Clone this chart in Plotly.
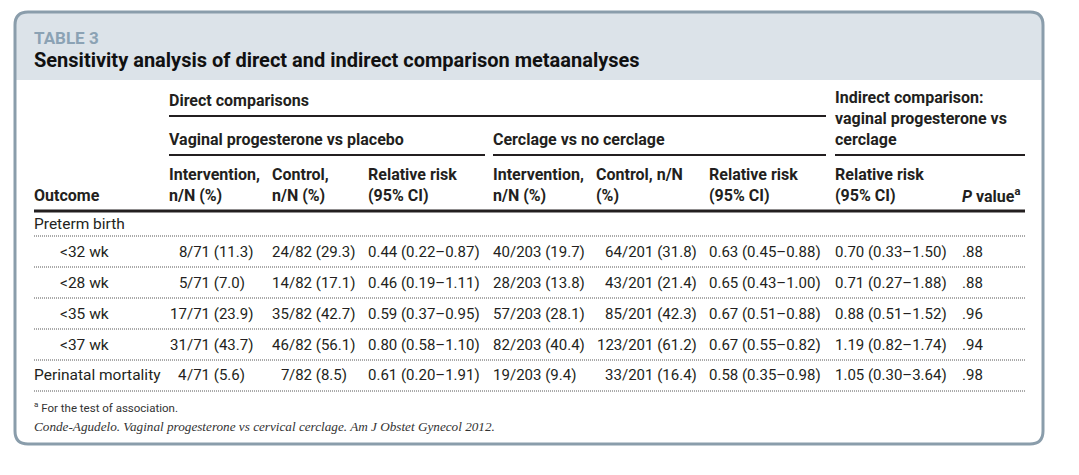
import plotly.graph_objects as go

# ---------------- data ----------------
table_label = "TABLE 3"
table_title = "Sensitivity analysis of direct and indirect comparison metaanalyses"
group_label = "Preterm birth"
outcomes = ["&lt;32 wk", "&lt;28 wk", "&lt;35 wk", "&lt;37 wk", "Perinatal mortality"]
outcome_indent = [True, True, True, True, False]

vp_int_n = [8, 5, 17, 31, 4]
vp_int_N = 71
vp_int_pct = [11.3, 7.0, 23.9, 43.7, 5.6]
vp_ctl_n = [24, 14, 35, 46, 7]
vp_ctl_N = 82
vp_ctl_pct = [29.3, 17.1, 42.7, 56.1, 8.5]
vp_rr = [0.44, 0.46, 0.59, 0.80, 0.61]
vp_lo = [0.22, 0.19, 0.37, 0.58, 0.20]
vp_hi = [0.87, 1.11, 0.95, 1.10, 1.91]

cc_int_n = [40, 28, 57, 82, 19]
cc_int_N = 203
cc_int_pct = [19.7, 13.8, 28.1, 40.4, 9.4]
cc_ctl_n = [64, 43, 85, 123, 33]
cc_ctl_N = 201
cc_ctl_pct = [31.8, 21.4, 42.3, 61.2, 16.4]
cc_rr = [0.63, 0.65, 0.67, 0.67, 0.58]
cc_lo = [0.45, 0.43, 0.51, 0.55, 0.35]
cc_hi = [0.88, 1.00, 0.88, 0.82, 0.98]

ind_rr = [0.70, 0.71, 0.88, 1.19, 1.05]
ind_lo = [0.33, 0.27, 0.51, 0.82, 0.30]
ind_hi = [1.50, 1.88, 1.52, 1.74, 3.64]
p_values = [0.88, 0.88, 0.96, 0.94, 0.98]

footnote = "<sup>a</sup> For the test of association."
citation = "Conde-Agudelo. Vaginal progesterone vs cervical cerclage. Am J Obstet Gynecol 2012."

# ---------------- style ----------------
W, H = 1079, 475
OFF = 8  # page body margin compensation
SANS = "Roboto, Liberation Sans, Arial, sans-serif"
SERIF = "Liberation Serif, DejaVu Serif, serif"
BODY = "#231f20"
BAND = "#dce3e9"
FRAME = "#8a9dab"
LABEL = "#8ba2b4"
FS_TXT = 15.5
FS_NUM = 15
FS_HDR = 16

fig = go.Figure()
fig.update_layout(
    width=W, height=H, margin=dict(l=0, r=0, t=0, b=0),
    paper_bgcolor="white", plot_bgcolor="white", showlegend=False,
    xaxis=dict(range=[OFF, W + OFF], visible=False, fixedrange=True),
    yaxis=dict(range=[H + OFF, OFF], visible=False, fixedrange=True),
)

ann = []


def txt(x, y, s, size=FS_NUM, bold=False, color=BODY, anchor="left", family=SANS, italic=False):
    if bold:
        s = "<b>" + s + "</b>"
    if italic:
        s = "<i>" + s + "</i>"
    ann.append(dict(x=x, y=y, xref="x", yref="y", text=s, showarrow=False,
                    xanchor=anchor, yanchor="middle", align=anchor,
                    borderpad=0, borderwidth=0,
                    font=dict(family=family, size=size, color=color)))


shapes = []


def hline(x0, x1, y, w=1, dash="solid", color=BODY):
    shapes.append(dict(type="line", xref="x", yref="y", x0=x0, x1=x1, y0=y, y1=y,
                       line=dict(color=color, width=w, dash=dash), layer="above"))


# frame
fx0, fy0, fx1, fy1, r = 15, 12, 1043, 444, 13
band_bottom = 80
band = (f"M {fx0},{band_bottom} L {fx0},{fy0 + r} Q {fx0},{fy0} {fx0 + r},{fy0} "
        f"L {fx1 - r},{fy0} Q {fx1},{fy0} {fx1},{fy0 + r} L {fx1},{band_bottom} Z")
shapes.append(dict(type="path", xref="x", yref="y", path=band, fillcolor=BAND,
                   line=dict(width=0), layer="below"))
outline = (f"M {fx0},{fy0 + r} Q {fx0},{fy0} {fx0 + r},{fy0} L {fx1 - r},{fy0} "
           f"Q {fx1},{fy0} {fx1},{fy0 + r} L {fx1},{fy1 - r} Q {fx1},{fy1} {fx1 - r},{fy1} "
           f"L {fx0 + r},{fy1} Q {fx0},{fy1} {fx0},{fy1 - r} Z")
shapes.append(dict(type="path", xref="x", yref="y", path=outline,
                   line=dict(color=FRAME, width=3), layer="above"))

# title
txt(34, 38, table_label, size=17, bold=True, color=LABEL)
txt(34, 60, table_title, size=20, bold=True, color="#111111")

# header text
L, R = 34, 1025
txt(169, 100, "Direct comparisons", size=FS_HDR, bold=True)
hline(169, 826, 116, w=2)
txt(169, 139, "Vaginal progesterone vs placebo", size=FS_HDR, bold=True)
hline(169, 485, 155, w=2)
txt(493, 139, "Cerclage vs no cerclage", size=FS_HDR, bold=True)
hline(493, 826, 155, w=2)
txt(835, 97, "Indirect comparison:", size=FS_HDR, bold=True)
txt(835, 118, "vaginal progesterone vs", size=FS_HDR, bold=True)
txt(835, 139, "cerclage", size=FS_HDR, bold=True)
hline(835, R, 155, w=2)

h1, h2 = 174, 195
txt(L, h2, "Outcome", size=FS_HDR, bold=True)
for x, a, b in [(169, "Intervention,", "n/N (%)"), (272, "Control,", "n/N (%)"),
                (368, "Relative risk", "(95% CI)"), (493, "Intervention,", "n/N (%)"),
                (596, "Control, n/N", "(%)"), (709, "Relative risk", "(95% CI)"),
                (835, "Relative risk", "(95% CI)")]:
    txt(x, h1, a, size=FS_HDR, bold=True)
    txt(x, h2, b, size=FS_HDR, bold=True)
txt(1020, h2, "<i>P</i> value<sup>a</sup>", size=FS_HDR, bold=True, anchor="right")
hline(L, R, 211, w=3)

# body
txt(L, 224, group_label, size=FS_TXT)
row_y = [252, 283, 314, 345, 375]
dot_y = [236, 267, 298, 329, 360, 391]
for y in dot_y:
    hline(L, R, y, w=1, dash="1px,1px", color="#555555")

slash_x = {"vp_int": 187, "vp_ctl": 289, "cc_int": 510, "cc_ctl": 622}


def frac(key, n, N, pct, y):
    xs = slash_x[key]
    txt(xs, y, f"{n}", anchor="right")
    txt(xs, y, f"/{N} ({pct:.1f})", anchor="left")


def ci(v, lo, hi):
    return f"{v:.2f} ({lo:.2f}\u2013{hi:.2f})"


for i, y in enumerate(row_y):
    txt(60 if outcome_indent[i] else L, y, outcomes[i], size=FS_TXT)
    frac("vp_int", vp_int_n[i], vp_int_N, vp_int_pct[i], y)
    frac("vp_ctl", vp_ctl_n[i], vp_ctl_N, vp_ctl_pct[i], y)
    txt(368, y, ci(vp_rr[i], vp_lo[i], vp_hi[i]))
    frac("cc_int", cc_int_n[i], cc_int_N, cc_int_pct[i], y)
    frac("cc_ctl", cc_ctl_n[i], cc_ctl_N, cc_ctl_pct[i], y)
    txt(709, y, ci(cc_rr[i], cc_lo[i], cc_hi[i]))
    txt(835, y, ci(ind_rr[i], ind_lo[i], ind_hi[i]))
    txt(962, y, f"{p_values[i]:.2f}".lstrip("0"))

txt(L, 407, footnote, size=11.5, color="#333333")
txt(L, 426, citation, size=13.2, family=SERIF, italic=True, color="#333333")

fig.update_layout(annotations=ann, shapes=shapes)
fig.write_html("out.html")
